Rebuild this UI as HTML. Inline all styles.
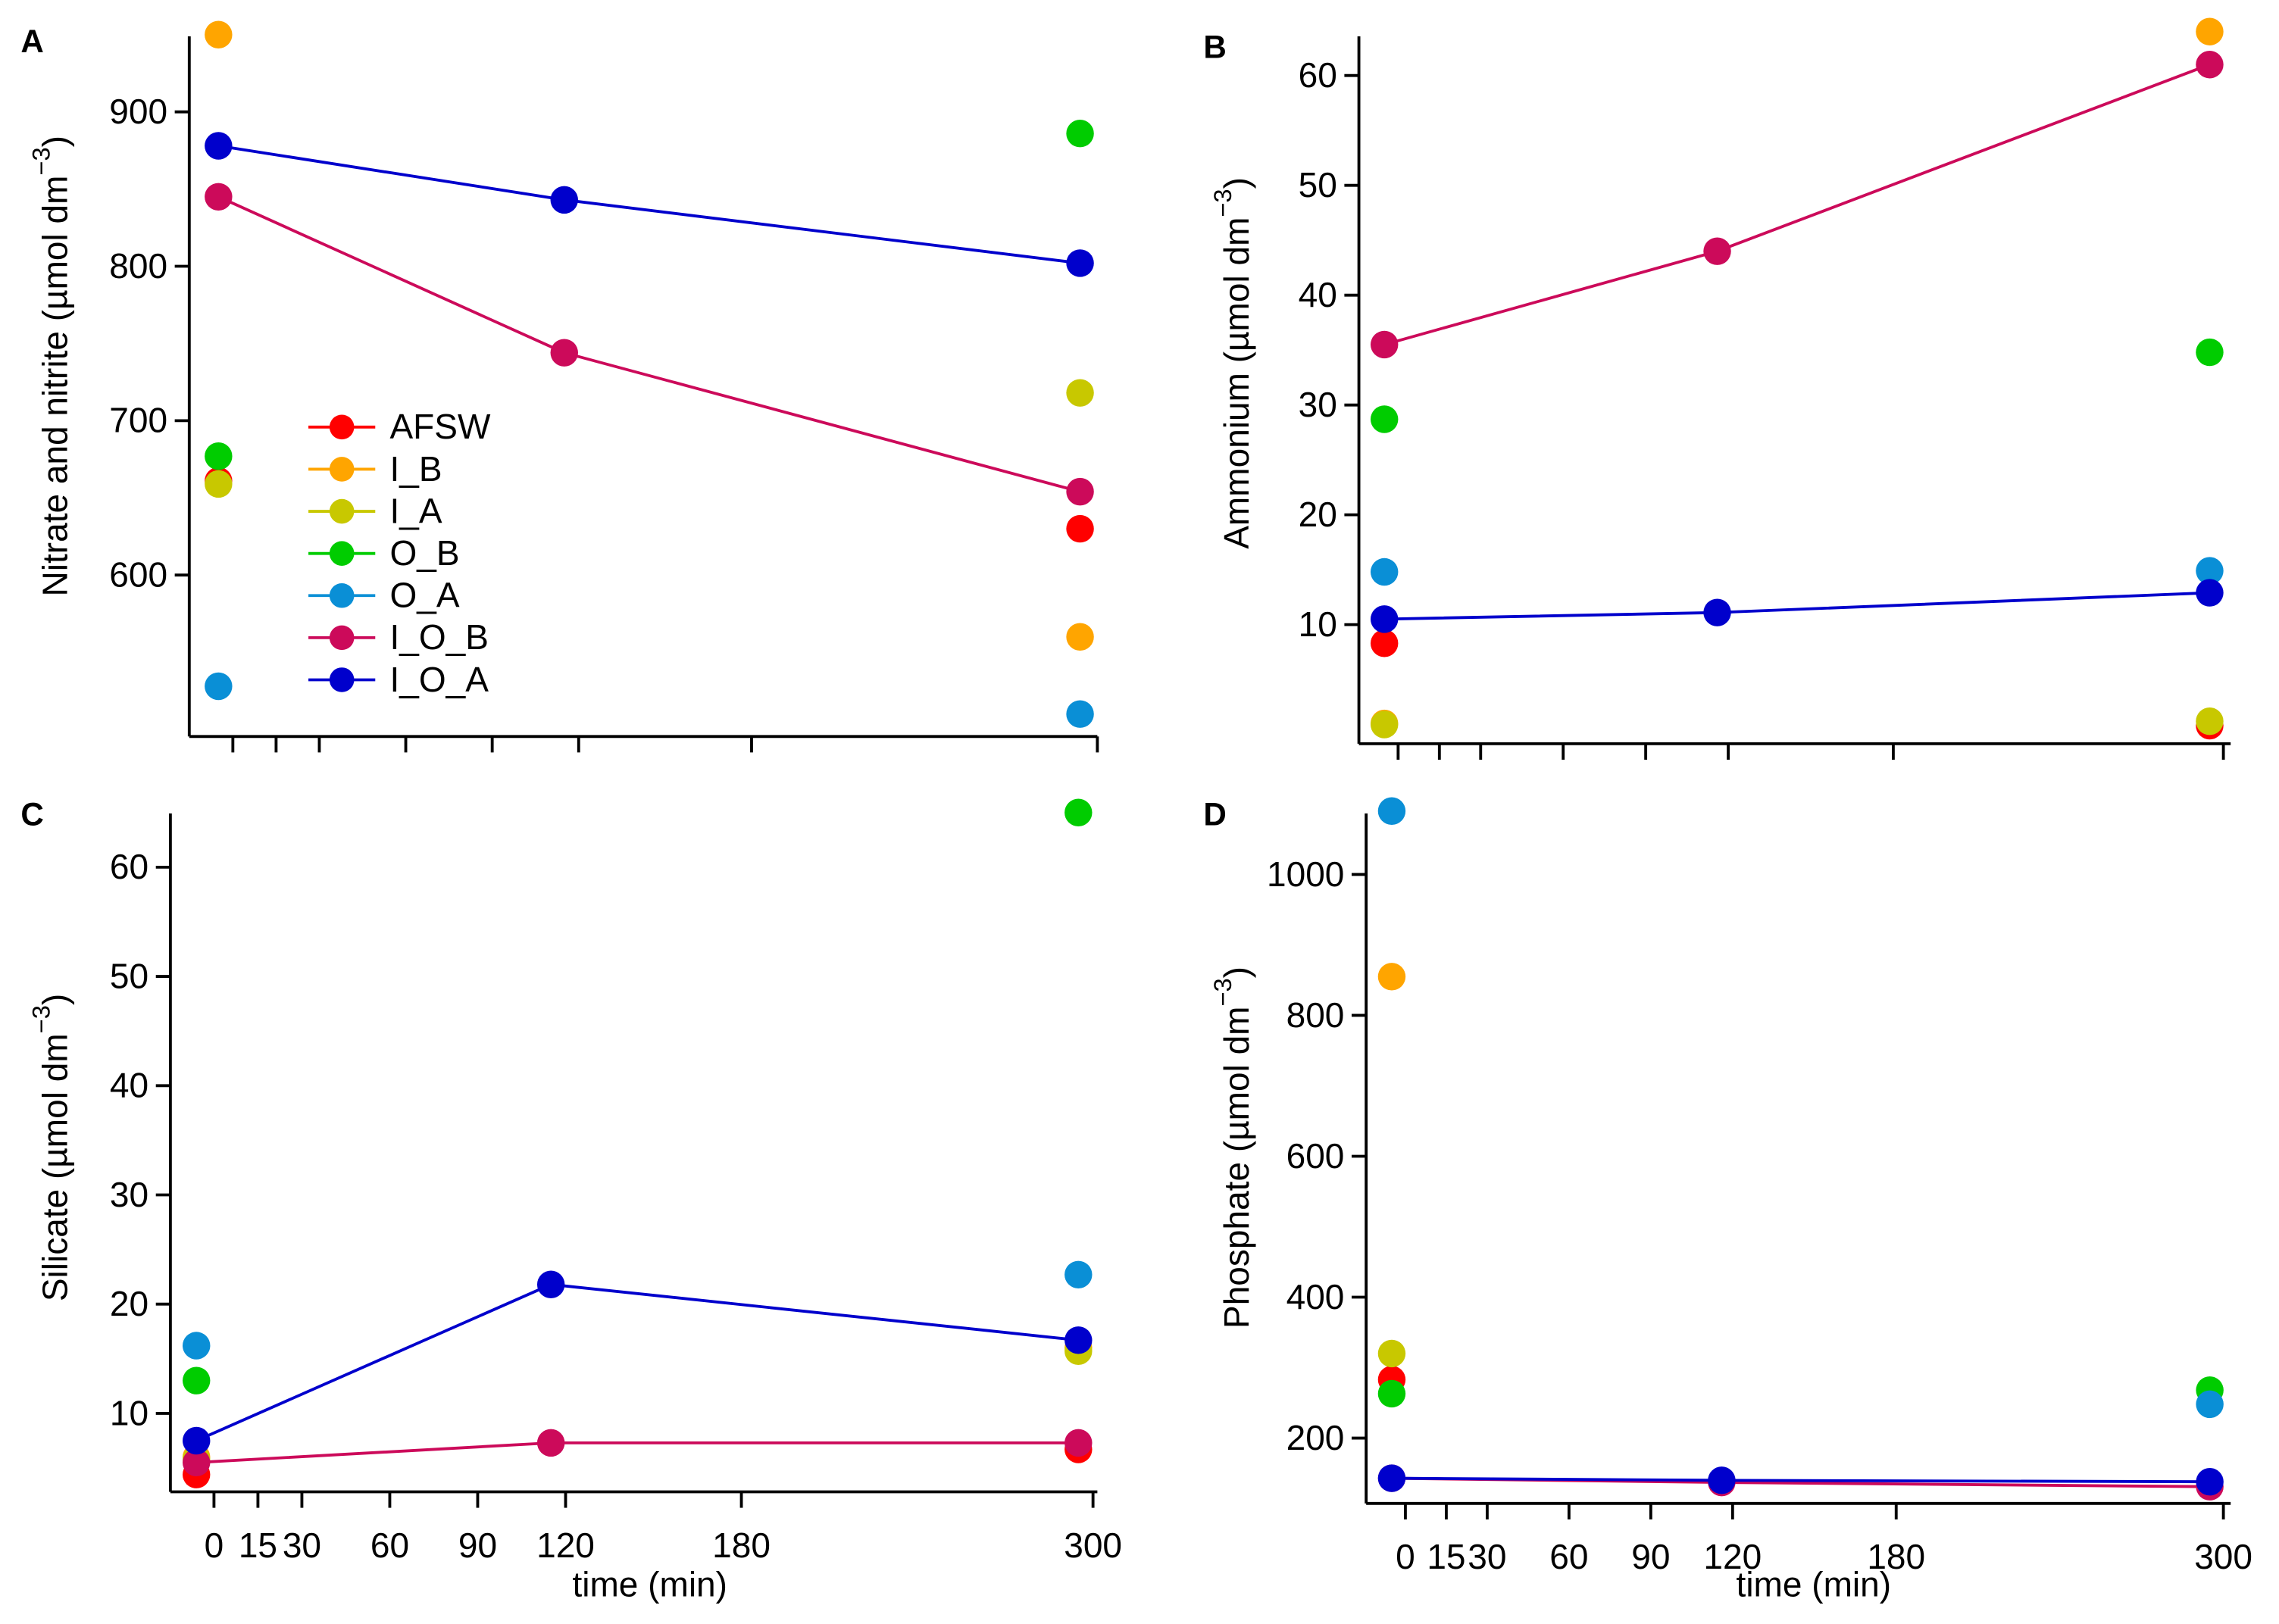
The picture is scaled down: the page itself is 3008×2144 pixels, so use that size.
<!DOCTYPE html>
<html><head><meta charset="utf-8"><style>
html,body{margin:0;padding:0;background:#fff;}
svg{display:block;font-family:"Liberation Sans",Arial,sans-serif;}
</style></head><body>
<svg id="chart" width="3008" height="2144" viewBox="0 0 1568 1118" xmlns="http://www.w3.org/2000/svg"></svg>
<script>
const seriesNames = ["AFSW","I_B","I_A","O_B","O_A","I_O_B","I_O_A"];
const seriesColors = ["#ff0000","#ffa500","#c8c800","#00cc00","#0a8fd6","#cc0a5a","#0000cc"];
const times = [-5, 115, 294];
const xTicks = [0,15,30,60,90,120,180,300];
const nitrateAFSW=[661,null,630], nitrateIB=[950,null,560], nitrateIA=[659,null,718], nitrateOB=[677,null,886], nitrateOA=[528,null,510], nitrateIOB=[845,744,654], nitrateIOA=[878,843,802];
const ammoniumAFSW=[8.3,null,0.8], ammoniumIB=[1.0,null,64], ammoniumIA=[0.9,null,1.2], ammoniumOB=[28.7,null,34.8], ammoniumOA=[14.8,null,14.9], ammoniumIOB=[35.5,44,61], ammoniumIOA=[10.5,11.1,12.9];
const silicateAFSW=[4.4,null,6.7], silicateIB=[6,null,16], silicateIA=[5.8,null,15.7], silicateOB=[13,null,65], silicateOA=[16.2,null,22.7], silicateIOB=[5.5,7.3,7.3], silicateIOA=[7.5,21.8,16.7];
const phosphateAFSW=[283,null,null], phosphateIB=[855,null,null], phosphateIA=[320,null,null], phosphateOB=[263,null,268], phosphateOA=[1090,null,248], phosphateIOB=[143,137,131], phosphateIOA=[143,140,138];
const yTicksA=[600,700,800,900], yTicksB=[10,20,30,40,50,60], yTicksC=[10,20,30,40,50,60], yTicksD=[200,400,600,800,1000];

const NS="http://www.w3.org/2000/svg";
const svg=document.getElementById('chart');
function mk(tag,attrs,parent){const e=document.createElementNS(NS,tag);for(const k in attrs)e.setAttribute(k,attrs[k]);(parent||svg).appendChild(e);return e;}

const panels=[
 {id:'a',letter:'A',lx:14,ly:36,ax:130,ay0:25,ay1:507,xEnd:755,x0:160,x300:755,v0:900,p0:77,pxPer:1.063,yTicks:yTicksA,data:[nitrateAFSW,nitrateIB,nitrateIA,nitrateOB,nitrateOA,nitrateIOB,nitrateIOA],title:'Nitrate and nitrite (µmol dm',tx:38,tyc:252,xlabels:false,times:[-5,115,294]},
 {id:'b',letter:'B',lx:828,ly:40,ax:935,ay0:25,ay1:512,xEnd:1535,x0:962,x300:1530,v0:10,p0:430,pxPer:7.56,yTicks:yTicksB,data:[ammoniumAFSW,ammoniumIB,ammoniumIA,ammoniumOB,ammoniumOA,ammoniumIOB,ammoniumIOA],title:'Ammonium (µmol dm',tx:851,tyc:250,xlabels:false,times:[-5,116,295]},
 {id:'c',letter:'C',lx:14,ly:568,ax:117,ay0:560,ay1:1027,xEnd:755,x0:147,x300:752,v0:10,p0:973,pxPer:7.52,yTicks:yTicksC,data:[silicateAFSW,silicateIB,silicateIA,silicateOB,silicateOA,silicateIOB,silicateIOA],title:'Silicate (µmol dm',tx:38,tyc:790,xlabels:true,xtx:447,times:[-6,115,295]},
 {id:'d',letter:'D',lx:828,ly:568,ax:940,ay0:560,ay1:1035,xEnd:1535,x0:967,x300:1530,v0:200,p0:990,pxPer:0.485,yTicks:yTicksD,data:[phosphateAFSW,phosphateIB,phosphateIA,phosphateOB,phosphateOA,phosphateIOB,phosphateIOA],title:'Phosphate (µmol dm',tx:851,tyc:790,xlabels:true,xtx:1248,times:[-5,116,295]}
];

panels.forEach(p=>{
  const g=mk('g',{});
  
  
  const xs=t=>p.x0+(p.x300-p.x0)*t/300;
  const ys=v=>p.p0-(v-p.v0)*p.pxPer;
  const L=mk('text',{x:p.lx,y:p.ly,'font-size':22,'font-weight':'bold'},g);L.textContent=p.letter;
  
  
  const ya=mk('line',{x1:p.ax,y1:p.ay0,x2:p.ax,y2:p.ay1,stroke:'#000','stroke-width':2},g);
  
  
  const xa=mk('line',{x1:p.ax,y1:p.ay1,x2:p.xEnd,y2:p.ay1,stroke:'#000','stroke-width':2},g);
  
  
  p.yTicks.forEach(v=>{
    const y=ys(v);
    mk('line',{x1:p.ax-10,y1:y,x2:p.ax,y2:y,stroke:'#000','stroke-width':2},g);
    const t=mk('text',{x:p.ax-15,y:y+8,'font-size':24,'text-anchor':'end'},g);t.textContent=v;
    
    
  });
  xTicks.forEach(v=>{
    const x=xs(v);
    mk('line',{x1:x,y1:p.ay1,x2:x,y2:p.ay1+11,stroke:'#000','stroke-width':2},g);
    if(p.xlabels){
      const t=mk('text',{x:x,y:p.ay1+45,'font-size':24,'text-anchor':'middle'},g);t.textContent=v;
      
      
    }
  });
  if(p.xlabels){
    const t=mk('text',{x:p.xtx,y:1099,'font-size':24,'text-anchor':'middle'},g);t.textContent='time (min)';
    
    
  }
  const yt=mk('text',{transform:`translate(${p.tx+8},${p.tyc}) rotate(-90)`,'font-size':24,'text-anchor':'middle'},g);
  yt.innerHTML=p.title+'<tspan dy="-12" font-size="17">−3</tspan><tspan dy="12">)</tspan>';
  
  
  p.data.forEach((arr,si)=>{
    if(si>=5){
      const pts=arr.map((v,i)=>v==null?null:xs(p.times[i])+','+ys(v)).filter(Boolean).join(' ');
      const pl=mk('polyline',{points:pts,fill:'none',stroke:seriesColors[si],'stroke-width':2},g);
      
      
    }
    arr.forEach((v,i)=>{
      if(v==null)return;
      const c=mk('circle',{cx:xs(p.times[i]),cy:ys(v),r:9.5,fill:seriesColors[si]},g);
      
      
    });
  });
});

const leg=mk('g',{});


seriesNames.forEach((n,i)=>{
  const y=294+i*29;
  const e=mk('g',{},leg);
  
  
  mk('line',{x1:212,y1:y,x2:258,y2:y,stroke:seriesColors[i],'stroke-width':2},e);
  mk('circle',{cx:235,cy:y,r:8.5,fill:seriesColors[i]},e);
  const t=mk('text',{x:268,y:y+8,'font-size':24},e);t.textContent=n;
});
</script>
</body></html>
